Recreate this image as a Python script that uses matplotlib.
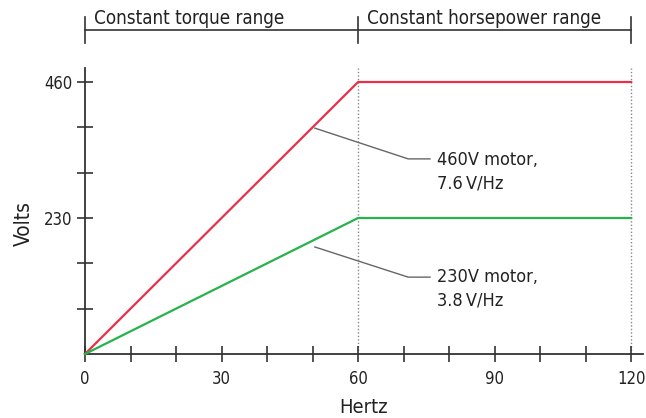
import matplotlib
matplotlib.use("Agg")
import matplotlib.pyplot as plt
import matplotlib.transforms as mtransforms

plt.rcParams['font.family'] = ['DejaVu Sans']
plt.rcParams['font.stretch'] = 'condensed'

# Data
hertz = [0, 60, 120]
volts_460 = [0, 460, 460]
volts_230 = [0, 230, 230]
x_ticks_major = [0, 30, 60, 90, 120]
x_ticks_minor = [10, 20, 40, 50, 70, 80, 100, 110]
y_ticks_major = [230, 460]
y_ticks_minor = [230 / 3, 460 / 3, 230 + 230 / 3, 230 + 460 / 3]
range_edges = [0, 60, 120]
range_labels = ["Constant torque range", "Constant horsepower range"]
label_460 = "460V motor,\n7.6\u2009V/Hz"
label_230 = "230V motor,\n3.8\u2009V/Hz"

RED = "#e8304a"
GREEN = "#27b34b"
AX = "#333333"
TXT = "#222222"

W, H = 646, 418
fig = plt.figure(figsize=(W / 100, H / 100), dpi=100)
x0, y0 = 85, 354
xmax = 122.6
ymax = 483.7
ax = fig.add_axes([x0 / W, (H - y0) / H, (643 - x0) / W, (y0 - 68) / H])
ax.set_xlim(0, xmax)
ax.set_ylim(0, ymax)

for s in ["top", "right"]:
    ax.spines[s].set_visible(False)
for s in ["left", "bottom"]:
    ax.spines[s].set_color(AX)
    ax.spines[s].set_linewidth(1.3)

# dotted vertical lines
for xv in range_edges[1:]:
    ax.axvline(xv, color="#888888", lw=1.0, ls=(0, (1, 1.5)), zorder=1)

ax.plot(hertz, volts_460, color=RED, lw=1.6, zorder=3, clip_on=False)
ax.plot(hertz, volts_230, color=GREEN, lw=1.6, zorder=3, clip_on=False)

fs = 12
ax.set_xticks(x_ticks_major)
ax.set_xticklabels([str(v) for v in x_ticks_major])
ax.set_xticks(x_ticks_minor, minor=True)
ax.set_yticks(y_ticks_major)
ax.set_yticklabels([str(v) for v in y_ticks_major])
ax.set_yticks(y_ticks_minor, minor=True)
ax.tick_params(axis="both", which="both", direction="inout", length=11.5,
               width=1.2, color=AX, labelsize=fs, labelcolor=TXT)
ax.tick_params(axis="x", which="major", pad=6)
ax.tick_params(axis="y", which="major", pad=3)

ax.set_xlabel("Hertz", fontsize=14.5, color=TXT, labelpad=7)
ax.set_ylabel("Volts", fontsize=15, color=TXT)
ax.yaxis.set_label_coords((34 - x0) / 558, (y0 - 224) / 286)

# top bracket
trans = mtransforms.blended_transform_factory(ax.transData, ax.transAxes)
yb = (354 - 30) / 286
ax.plot([range_edges[0], range_edges[-1]], [yb, yb], transform=trans,
        color=AX, lw=1.2, clip_on=False)
for xe in range_edges:
    ax.plot([xe, xe], [(354 - 43) / 286, (354 - 17) / 286], transform=trans,
            color=AX, lw=1.2, clip_on=False)
for (a, b), lab in zip(zip(range_edges[:-1], range_edges[1:]), range_labels):
    ax.text(a + 2, (354 - 24) / 286, lab, transform=trans, fontsize=13.5,
            ha="left", va="baseline", color=TXT)

# annotations: leader from a point near the line, to an elbow, then horizontal
for lab, anchor, elbow, text_top in [(label_460, (50.5, 382), (71.0, 330), 343),
                                      (label_230, (50.5, 181), (71.0, 130), 145)]:
    ax.plot([anchor[0], elbow[0], elbow[0] + 4.8], [anchor[1], elbow[1], elbow[1]],
            color="#666666", lw=1.0, clip_on=False, zorder=2)
    ax.text(elbow[0] + 6.3, text_top, lab, fontsize=13, va="top", ha="left",
            color=TXT, linespacing=1.4)

fig.savefig("out.png", dpi=100)
